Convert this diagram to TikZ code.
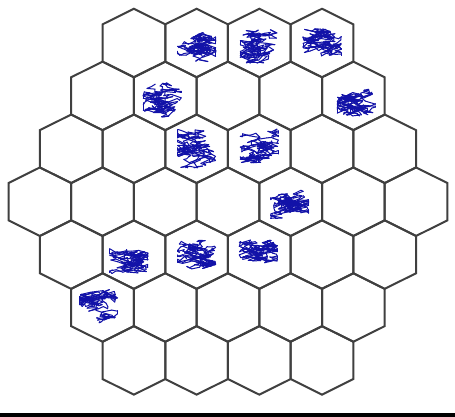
\documentclass[tikz,border=0pt]{standalone}
\usetikzlibrary{calc}
\definecolor{scrblue}{RGB}{18,18,168}
\newcommand\myscrib[4]{%
  \pgfmathsetseed{#2}%
  \begin{scope}[shift={($(#1)+(#3,#4)$)}]
    \gdef\spx{0}\gdef\spy{0}%
    \foreach \i in {1,...,230}{%
      \pgfmathsetmacro\snx{max(-19,min(19,0.88*\spx+rand*9))}%
      \pgfmathsetmacro\sny{max(-19,min(19,0.97*\spy+rand*3.6))}%
      \draw[scr] (\spx,\spy) -- (\snx,\sny);
      \xdef\spx{\snx}\xdef\spy{\sny}%
    }
  \end{scope}
}
\begin{document}
\begin{tikzpicture}[x=1pt,y=-1pt,
  hexline/.style={draw=black!75, line width=2pt, line join=miter},
  scr/.style={draw=scrblue, line width=1.0pt, line join=round, line cap=round}]
\useasboundingbox (0,0) rectangle (455,417);
\fill[white] (0,0) rectangle (455,417);
\foreach \r/\n in {0/4,1/5,2/6,3/7,4/6,5/5,6/4}{
  \pgfmathsetmacro\lft{8.5+31.35*abs(\r-3)}
  \foreach \k in {1,...,\n}{
    \pgfmathsetmacro\cx{\lft+31.35+62.7*(\k-1)}
    \pgfmathsetmacro\cy{43+52.9*\r}
    \coordinate (h-\r-\k) at (\cx,\cy);
    \draw[hexline] ($(h-\r-\k)+(0,-34.25)$) -- ++(31.35,15.6) -- ++(0,37.3)
      -- ++(-31.35,15.6) -- ++(-31.35,-15.6) -- ++(0,-37.3) -- cycle;
  }
}
\myscrib{h-0-2}{11}{0}{5}
\myscrib{h-0-3}{23}{0}{1}
\myscrib{h-0-4}{37}{0}{1}
\myscrib{h-1-2}{41}{-3}{2}
\myscrib{h-1-5}{53}{3}{1}
\myscrib{h-2-3}{67}{0}{0}
\myscrib{h-2-4}{71}{0}{-2}
\myscrib{h-3-5}{83}{-1}{2}
\myscrib{h-4-2}{97}{-5}{1}
\myscrib{h-4-3}{101}{0}{2}
\myscrib{h-4-4}{113}{-1}{0}
\myscrib{h-5-1}{127}{-4}{-3}
\fill[black] (0,412.7) rectangle (455,417);
\end{tikzpicture}
\end{document}
